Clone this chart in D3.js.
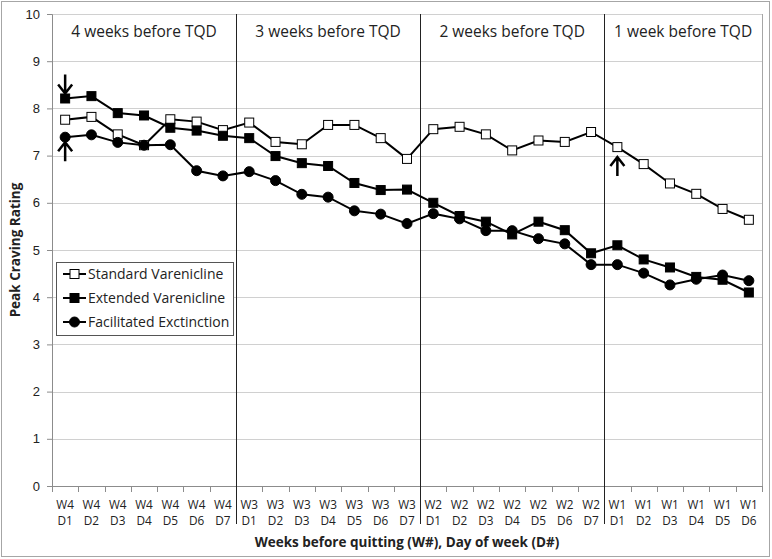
<!DOCTYPE html>
<html>
<head>
<meta charset="utf-8">
<script src="https://cdn.jsdelivr.net/npm/d3@7"></script>
<style>
  body { margin: 0; background: #fff; }
  svg { font-family: "Open Sans", "Noto Sans", sans-serif; }
</style>
</head>
<body>
<svg id="chart" width="772" height="559"></svg>
<script>
// categories: week / day before quit date
const weeks = ["W4", "W3", "W2", "W1"];
const daysPerWeek = [7, 7, 7, 6];
const weekLabels = ["4 weeks before TQD", "3 weeks before TQD", "2 weeks before TQD", "1 week before TQD"];
const categories = [];
weeks.forEach((w, i) => {
  for (let d = 1; d <= daysPerWeek[i]; d++) categories.push(w + " D" + d);
});

const standardVals = [7.76, 7.82, 7.45, 7.22, 7.77, 7.72, 7.54,
  7.70, 7.29, 7.24, 7.65, 7.65, 7.37, 6.93,
  7.56, 7.61, 7.45, 7.11, 7.32, 7.29, 7.50,
  7.18, 6.82, 6.41, 6.19, 5.87, 5.64];
const extendedVals = [8.21, 8.26, 7.90, 7.85, 7.59, 7.53, 7.42,
  7.37, 6.99, 6.84, 6.78, 6.42, 6.27, 6.28,
  6.00, 5.72, 5.60, 5.33, 5.60, 5.42, 4.93,
  5.10, 4.80, 4.63, 4.43, 4.37, 4.10];
const facilitatedVals = [7.39, 7.44, 7.28, 7.22, 7.23, 6.68, 6.57,
  6.66, 6.47, 6.18, 6.12, 5.83, 5.76, 5.56,
  5.77, 5.66, 5.41, 5.41, 5.24, 5.13, 4.69,
  4.69, 4.51, 4.26, 4.38, 4.47, 4.35];
const yTicks = [0, 1, 2, 3, 4, 5, 6, 7, 8, 9, 10];

// annotation arrows: category index, series, direction, gap from marker
const arrows = [
  { i: 0, vals: extendedVals, dir: "down", gap: 5 },
  { i: 0, vals: facilitatedVals, dir: "up", gap: 5 },
  { i: 21, vals: standardVals, dir: "up", gap: 10 }
];

const series = [
  { name: "Standard Varenicline", vals: standardVals, shape: "square", fill: "#fff" },
  { name: "Extended Varenicline", vals: extendedVals, shape: "square", fill: "#000" },
  { name: "Facilitated Exctinction", vals: facilitatedVals, shape: "circle", fill: "#000" }
];

const svg = d3.select("#chart");
const margin = { top: 14, right: 10, bottom: 73, left: 52 };
const width = 772 - margin.left - margin.right;
const height = 559 - margin.top - margin.bottom;

// outer border
svg.append("rect")
  .attr("x", 1.5).attr("y", 1.5)
  .attr("width", 768).attr("height", 555)
  .attr("fill", "none").attr("stroke", "#a6a6a6").attr("stroke-width", 1);

const g = svg.append("g").attr("transform", `translate(${margin.left},${margin.top})`);

const x = d3.scaleBand().domain(categories).range([0, width]);
const y = d3.scaleLinear().domain([0, 10]).range([height, 0]);
const cx = i => x(categories[i]) + x.bandwidth() / 2;

// gridlines
g.selectAll(".grid")
  .data(yTicks)
  .join("line")
    .attr("x1", 0).attr("x2", width)
    .attr("y1", d => Math.round(y(d)) + 0.5).attr("y2", d => Math.round(y(d)) + 0.5)
    .attr("stroke", "#d0d0d0").attr("stroke-width", 1);

// plot area right border
g.append("line")
  .attr("x1", width + 0.5).attr("x2", width + 0.5)
  .attr("y1", 0).attr("y2", height)
  .attr("stroke", "#a6a6a6");

// y axis
const yAxis = g.append("g")
  .call(d3.axisLeft(y).tickValues(yTicks).tickSize(5).tickPadding(7));
yAxis.select(".domain").attr("stroke", "#8c8c8c");
yAxis.selectAll(".tick line").attr("stroke", "#8c8c8c");
yAxis.selectAll("text").attr("font-size", 13).attr("fill", "#222");

// x axis: ticks on band boundaries
const xAxisG = g.append("g").attr("transform", `translate(0,${height})`);
xAxisG.append("line")
  .attr("x1", 0).attr("x2", width).attr("y1", 0.5).attr("y2", 0.5)
  .attr("stroke", "#8c8c8c");
xAxisG.selectAll(".xtick")
  .data(d3.range(categories.length + 1))
  .join("line")
    .attr("x1", i => Math.round(i * x.step()) + 0.5)
    .attr("x2", i => Math.round(i * x.step()) + 0.5)
    .attr("y1", 0).attr("y2", 6)
    .attr("stroke", "#8c8c8c");
// two-line labels, each line its own text element
[0, 1].forEach(line => {
  xAxisG.selectAll(".xlab" + line)
    .data(categories)
    .join("text")
      .attr("class", "xlab" + line)
      .attr("x", d => x(d) + x.bandwidth() / 2)
      .attr("y", line === 0 ? 22.5 : 39)
      .attr("text-anchor", "middle")
      .attr("font-size", 11.8)
      .attr("fill", "#222")
      .text(d => d.split(" ")[line]);
});

// week separators and labels
let start = 0;
weeks.forEach((w, i) => {
  const x0 = start * x.step();
  const x1 = (start + daysPerWeek[i]) * x.step();
  if (i > 0) {
    g.append("line")
      .attr("x1", Math.round(x0) + 0.5).attr("x2", Math.round(x0) + 0.5)
      .attr("y1", 0).attr("y2", height + 38)
      .attr("stroke", "#222").attr("stroke-width", 1);
  }
  g.append("text")
    .attr("x", (x0 + x1) / 2).attr("y", 23)
    .attr("text-anchor", "middle")
    .attr("font-size", 15.5)
    .attr("fill", "#222")
    .text(weekLabels[i]);
  start += daysPerWeek[i];
});

// lines and markers
const line = d3.line().x((d, i) => cx(i)).y(d => y(d));
function drawMarker(sel, s, px, py) {
  if (s.shape === "square") {
    sel.append("rect")
      .attr("x", px - 4.5).attr("y", py - 4.5)
      .attr("width", 9).attr("height", 9)
      .attr("fill", s.fill).attr("stroke", "#000").attr("stroke-width", 1);
  } else {
    sel.append("circle")
      .attr("cx", px).attr("cy", py).attr("r", 5)
      .attr("fill", s.fill).attr("stroke", "#000").attr("stroke-width", 1);
  }
}
series.forEach(s => {
  g.append("path")
    .datum(s.vals)
    .attr("d", line)
    .attr("fill", "none").attr("stroke", "#000").attr("stroke-width", 2);
});
series.forEach(s => {
  const mg = g.append("g");
  s.vals.forEach((v, i) => drawMarker(mg, s, cx(i), y(v)));
});

// annotation arrows
arrows.forEach(a => {
  const px = cx(a.i);
  const py = y(a.vals[a.i]);
  const s = a.dir === "down" ? -1 : 1;
  const tip = py + s * a.gap;
  const tail = tip + s * 19;
  g.append("path")
    .attr("d", `M${px},${tail}L${px},${tip}M${px - 7},${tip + s * 9}L${px},${tip}L${px + 7},${tip + s * 9}`)
    .attr("fill", "none").attr("stroke", "#000").attr("stroke-width", 2.5);
});

// legend
const legend = g.append("g").attr("transform", "translate(4,248)");
legend.append("rect")
  .attr("x", 0.5).attr("y", 0.5).attr("width", 177).attr("height", 73)
  .attr("fill", "#fff").attr("stroke", "#555");
series.forEach((s, i) => {
  const ly = 12 + i * 24;
  legend.append("line")
    .attr("x1", 7).attr("x2", 30).attr("y1", ly).attr("y2", ly)
    .attr("stroke", "#000").attr("stroke-width", 2);
  drawMarker(legend, s, 18.5, ly);
  legend.append("text")
    .attr("x", 32).attr("y", ly + 5)
    .attr("font-size", 14).attr("fill", "#222")
    .text(s.name);
});

// axis titles
svg.append("text")
  .attr("x", margin.left + width / 2).attr("y", 547)
  .attr("text-anchor", "middle")
  .attr("font-size", 13.5).attr("font-weight", "bold").attr("fill", "#222")
  .text("Weeks before quitting (W#), Day of week (D#)");
svg.append("text")
  .attr("transform", `translate(20,${margin.top + height / 2}) rotate(-90)`)
  .attr("text-anchor", "middle")
  .attr("font-size", 13.5).attr("font-weight", "bold").attr("fill", "#222")
  .text("Peak Craving Rating");
</script>
</body>
</html>
